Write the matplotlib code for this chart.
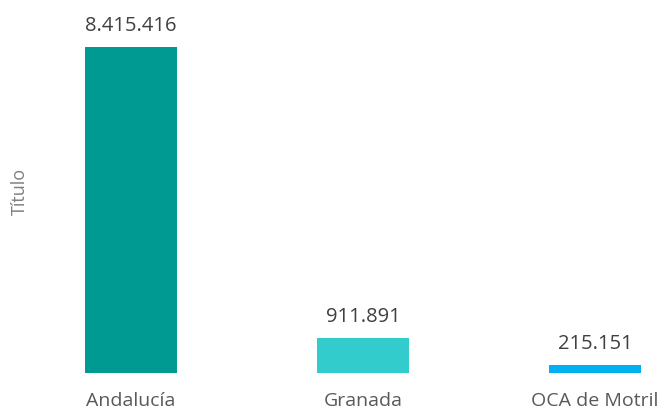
import matplotlib
matplotlib.use('Agg')
import matplotlib.pyplot as plt

categories = ['Andalucía', 'Granada', 'OCA de Motril']
values = [8415416, 911891, 215151]
labels = ['8.415.416', '911.891', '215.151']
colors = ['#009A93', '#33CCCC', '#00B0F0']

plt.rcParams['font.family'] = ['Open Sans', 'DejaVu Sans']

fig = plt.figure(figsize=(6.64, 4.12), dpi=100)
ax = fig.add_axes([0, 39 / 412, 1, 326 / 412])

x = list(range(len(categories)))
bars = ax.bar(x, values, width=0.4, color=colors, clip_on=False)

for bar, lab in zip(bars, labels):
    ax.annotate(lab, (bar.get_x() + bar.get_width() / 2, bar.get_height()),
                xytext=(0, 15), textcoords='offset points',
                ha='center', va='center', fontsize=14.5, color='#404040',
                annotation_clip=False)

ax.set_xlim(-131 / 232, (664 - 131) / 232)
ax.set_ylim(0, max(values))
ax.set_xticks(x)
ax.set_xticklabels(categories, fontsize=14, color='#595959')
ax.tick_params(axis='x', length=0, pad=14)
ax.set_yticks([])
for s in ax.spines.values():
    s.set_visible(False)

fig.text(20 / 664, 1 - 191 / 412, 'Título', rotation=90, ha='center',
         va='center', fontsize=13, color='#7f7f7f')

fig.savefig('out.png', dpi=100)
